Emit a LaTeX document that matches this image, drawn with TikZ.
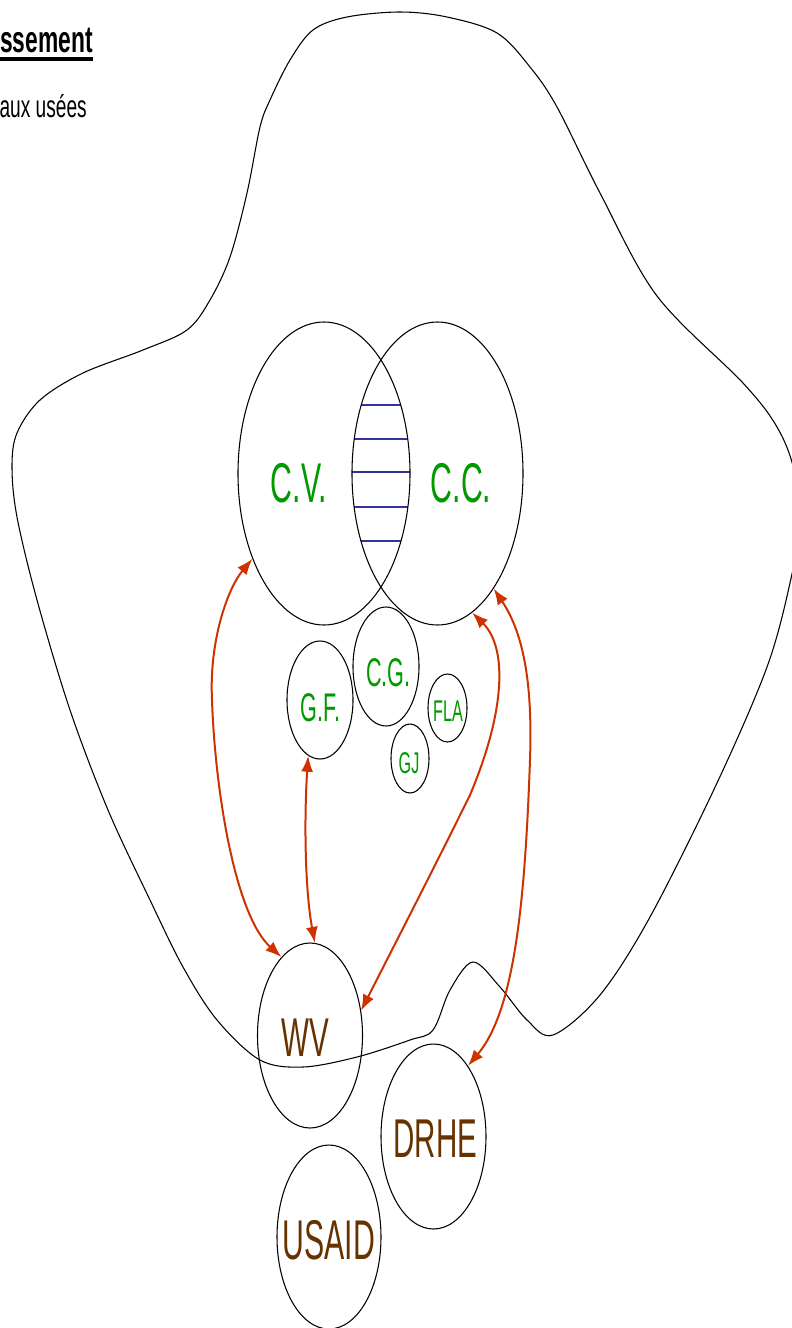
\documentclass[tikz,border=0pt]{standalone}
\usepackage{fontspec}
\setmainfont{Liberation Sans}
\newfontfamily\lblfont{Liberation Sans}[FakeStretch=0.54]
\newfontfamily\ttlfont{Liberation Sans}[FakeStretch=0.61]
\usetikzlibrary{shapes.geometric,arrows.meta}
\definecolor{lgreen}{HTML}{009900}
\definecolor{lbrown}{HTML}{663300}
\definecolor{arrcol}{HTML}{CC3300}
\definecolor{hatchcol}{HTML}{333399}
\begin{document}
\begin{tikzpicture}[x=0.75pt,y=-0.75pt,
  oval/.style={draw=black,line width=0.8pt,ellipse,inner sep=0pt},
  glabel/.style={text=lgreen,inner sep=0pt,font=\lblfont\fontsize{#1}{#1}\selectfont},
  blabel/.style={text=lbrown,inner sep=0pt,font=\lblfont\fontsize{#1}{#1}\selectfont},
  link/.style={draw=arrcol,line width=1.5pt,{Latex[length=12pt,width=9pt]}-{Latex[length=12pt,width=9pt]}},
  hatchline/.style={draw=hatchcol,line width=1.6pt},
  blob/.style={draw=black,line width=0.8pt}]
\useasboundingbox (0,0) rectangle (792,1328);

% big outline
\draw[blob] plot[smooth cycle,tension=0.55] coordinates {
 (400,12) (447,17) (497,33) (530,67) (557,107) (600,193) (657,296)
 (743,383) (777,427) (794,470) (799,525) (790,583) (767,667) (717,783) (650,917)
 (600,995) (553,1035) (527,1020) (500,987) (473,962) (450,990) (433,1030)
 (410,1040) (357,1057) (303,1067) (260,1060) (217,1020) (183,967) (150,900)
 (108,810) (70,710) (37,600) (17,517) (12,467) (17,433) (40,400) (83,373)
 (143,350) (187,330) (210,300) (230,257) (247,193) (260,127) (270,100) (290,60)
 (313,30) (347,17)};

% hatched intersection
\begin{scope}
 \clip (324,473.5) ellipse [x radius=86, y radius=151.5];
 \clip (437.5,473.5) ellipse [x radius=85.5, y radius=151.5];
 \foreach \yy in {405,439,472,507,541}
   \draw[hatchline] (340,\yy) -- (425,\yy);
\end{scope}

% ellipses
\node[oval,minimum width=129pt,minimum height=227.25pt] (cv) at (324,473.5) {};
\node[oval,minimum width=128.25pt,minimum height=227.25pt] (cc) at (437.5,473.5) {};
\node[oval,minimum width=49.5pt,minimum height=88.5pt] (gf) at (320,700) {};
\node[oval,minimum width=49.5pt,minimum height=89.25pt] (cg) at (386,666.5) {};
\node[oval,minimum width=29.25pt,minimum height=51pt] (fla) at (447.5,708) {};
\node[oval,minimum width=28.5pt,minimum height=51.75pt] (gj) at (410,758.5) {};
\node[oval,minimum width=78.75pt,minimum height=138.75pt] (wv) at (310,1035.5) {};
\node[oval,minimum width=78.75pt,minimum height=138.75pt] (drhe) at (433.5,1136.5) {};
\node[oval,minimum width=78pt,minimum height=138pt] (usaid) at (329,1237) {};

% labels
\node[glabel=42] (cvt) at (299,483) {C.V.};
\node[glabel=42] (cct) at (461,483) {C.C.};
\node[glabel=30] (gft) at (320.5,708) {G.F.};
\node[glabel=30] (cgt) at (388.5,673) {C.G.};
\node[glabel=22.5] (flat) at (448,711) {FLA};
\node[glabel=22.5] (gjt) at (409,763) {GJ};
\node[blabel=41] (wvt) at (305.5,1037.5) {WV};
\node[blabel=41] (drhet) at (435.5,1138.5) {DRHE};
\node[blabel=42] (usaidt) at (329,1240) {USAID};

% title fragments
\node[anchor=base east,inner sep=0pt,font=\ttlfont\bfseries\fontsize{28}{28}\selectfont] (t1) at (93,52.7) {ssement};
\draw[line width=2.3pt] (0,59) -- (t1.east |- 0,59);
\node[anchor=base east,inner sep=0pt,font=\ttlfont\fontsize{23.5}{23.5}\selectfont] (t2) at (87,117.3) {aux usées};

% connectors
\draw[link] (cv.230) .. controls (228,588) and (209,640) .. (212,700)
            .. controls (215,790) and (235,915) .. (wv.110);
\draw[link] (gf.258) .. controls (304,820) and (305,890) .. (wv.87);
\draw[link] (cc.284) .. controls (508,648) and (505,712) .. (470,795)
            .. controls (435,866) and (398,938) .. (wv.26);
\draw[link] (cc.296) .. controls (528,640) and (532,700) .. (530,760)
            .. controls (525,900) and (515,1010) .. (drhe.64);
\end{tikzpicture}
\end{document}
